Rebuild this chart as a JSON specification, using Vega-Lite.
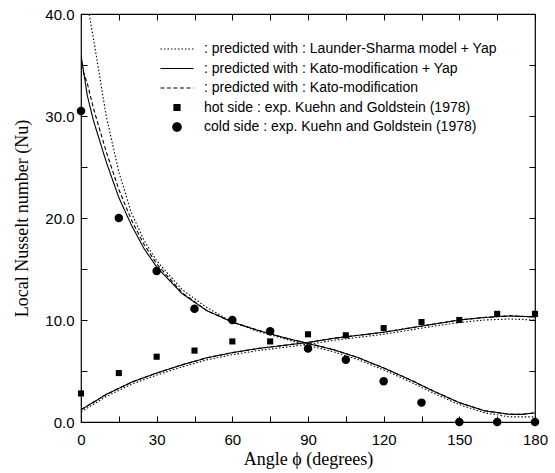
{
  "$schema": "https://vega.github.io/schema/vega-lite/v6.json",
  "width": 454,
  "height": 408,
  "autosize": "none",
  "padding": {"left": 81, "top": 14, "right": 20, "bottom": 51},
  "background": "white",
  "datasets": {
    "curves": [
      {"model": ": predicted with : Launder-Sharma model + Yap", "side": "cold", "x": 0, "y": 44},
      {"model": ": predicted with : Launder-Sharma model + Yap", "side": "cold", "x": 2.5, "y": 41},
      {"model": ": predicted with : Launder-Sharma model + Yap", "side": "cold", "x": 5, "y": 37.5},
      {"model": ": predicted with : Launder-Sharma model + Yap", "side": "cold", "x": 10, "y": 30},
      {"model": ": predicted with : Launder-Sharma model + Yap", "side": "cold", "x": 15, "y": 24.5},
      {"model": ": predicted with : Launder-Sharma model + Yap", "side": "cold", "x": 20, "y": 20.5},
      {"model": ": predicted with : Launder-Sharma model + Yap", "side": "cold", "x": 25, "y": 17.8},
      {"model": ": predicted with : Launder-Sharma model + Yap", "side": "cold", "x": 30, "y": 15.8},
      {"model": ": predicted with : Launder-Sharma model + Yap", "side": "cold", "x": 40, "y": 13.0},
      {"model": ": predicted with : Launder-Sharma model + Yap", "side": "cold", "x": 50, "y": 11.2},
      {"model": ": predicted with : Launder-Sharma model + Yap", "side": "cold", "x": 60, "y": 9.8},
      {"model": ": predicted with : Launder-Sharma model + Yap", "side": "cold", "x": 70, "y": 8.9},
      {"model": ": predicted with : Launder-Sharma model + Yap", "side": "cold", "x": 80, "y": 8.2},
      {"model": ": predicted with : Launder-Sharma model + Yap", "side": "cold", "x": 90, "y": 7.5},
      {"model": ": predicted with : Launder-Sharma model + Yap", "side": "cold", "x": 100, "y": 6.9},
      {"model": ": predicted with : Launder-Sharma model + Yap", "side": "cold", "x": 110, "y": 6.1},
      {"model": ": predicted with : Launder-Sharma model + Yap", "side": "cold", "x": 120, "y": 5.1},
      {"model": ": predicted with : Launder-Sharma model + Yap", "side": "cold", "x": 130, "y": 4.0},
      {"model": ": predicted with : Launder-Sharma model + Yap", "side": "cold", "x": 140, "y": 2.8},
      {"model": ": predicted with : Launder-Sharma model + Yap", "side": "cold", "x": 150, "y": 1.7},
      {"model": ": predicted with : Launder-Sharma model + Yap", "side": "cold", "x": 160, "y": 0.9},
      {"model": ": predicted with : Launder-Sharma model + Yap", "side": "cold", "x": 170, "y": 0.5},
      {"model": ": predicted with : Launder-Sharma model + Yap", "side": "cold", "x": 180, "y": 0.5},
      {"model": ": predicted with : Launder-Sharma model + Yap", "side": "hot", "x": 0, "y": 1.0},
      {"model": ": predicted with : Launder-Sharma model + Yap", "side": "hot", "x": 10, "y": 2.5},
      {"model": ": predicted with : Launder-Sharma model + Yap", "side": "hot", "x": 20, "y": 3.7},
      {"model": ": predicted with : Launder-Sharma model + Yap", "side": "hot", "x": 30, "y": 4.6},
      {"model": ": predicted with : Launder-Sharma model + Yap", "side": "hot", "x": 40, "y": 5.4},
      {"model": ": predicted with : Launder-Sharma model + Yap", "side": "hot", "x": 50, "y": 6.1},
      {"model": ": predicted with : Launder-Sharma model + Yap", "side": "hot", "x": 60, "y": 6.6},
      {"model": ": predicted with : Launder-Sharma model + Yap", "side": "hot", "x": 70, "y": 7.0},
      {"model": ": predicted with : Launder-Sharma model + Yap", "side": "hot", "x": 80, "y": 7.3},
      {"model": ": predicted with : Launder-Sharma model + Yap", "side": "hot", "x": 90, "y": 7.6},
      {"model": ": predicted with : Launder-Sharma model + Yap", "side": "hot", "x": 100, "y": 8.0},
      {"model": ": predicted with : Launder-Sharma model + Yap", "side": "hot", "x": 110, "y": 8.3},
      {"model": ": predicted with : Launder-Sharma model + Yap", "side": "hot", "x": 120, "y": 8.6},
      {"model": ": predicted with : Launder-Sharma model + Yap", "side": "hot", "x": 130, "y": 9.0},
      {"model": ": predicted with : Launder-Sharma model + Yap", "side": "hot", "x": 140, "y": 9.4},
      {"model": ": predicted with : Launder-Sharma model + Yap", "side": "hot", "x": 150, "y": 9.75},
      {"model": ": predicted with : Launder-Sharma model + Yap", "side": "hot", "x": 160, "y": 10.0},
      {"model": ": predicted with : Launder-Sharma model + Yap", "side": "hot", "x": 170, "y": 10.1},
      {"model": ": predicted with : Launder-Sharma model + Yap", "side": "hot", "x": 180, "y": 10.0},
      {"model": ": predicted with : Kato-modification + Yap", "side": "cold", "x": 0, "y": 36},
      {"model": ": predicted with : Kato-modification + Yap", "side": "cold", "x": 2.5, "y": 32},
      {"model": ": predicted with : Kato-modification + Yap", "side": "cold", "x": 5, "y": 29.5},
      {"model": ": predicted with : Kato-modification + Yap", "side": "cold", "x": 10, "y": 25.5},
      {"model": ": predicted with : Kato-modification + Yap", "side": "cold", "x": 15, "y": 22},
      {"model": ": predicted with : Kato-modification + Yap", "side": "cold", "x": 20, "y": 19.3},
      {"model": ": predicted with : Kato-modification + Yap", "side": "cold", "x": 25, "y": 17},
      {"model": ": predicted with : Kato-modification + Yap", "side": "cold", "x": 30, "y": 15.2},
      {"model": ": predicted with : Kato-modification + Yap", "side": "cold", "x": 40, "y": 12.6},
      {"model": ": predicted with : Kato-modification + Yap", "side": "cold", "x": 50, "y": 10.9},
      {"model": ": predicted with : Kato-modification + Yap", "side": "cold", "x": 60, "y": 9.8},
      {"model": ": predicted with : Kato-modification + Yap", "side": "cold", "x": 70, "y": 9.0},
      {"model": ": predicted with : Kato-modification + Yap", "side": "cold", "x": 80, "y": 8.3},
      {"model": ": predicted with : Kato-modification + Yap", "side": "cold", "x": 90, "y": 7.7},
      {"model": ": predicted with : Kato-modification + Yap", "side": "cold", "x": 100, "y": 7.1},
      {"model": ": predicted with : Kato-modification + Yap", "side": "cold", "x": 110, "y": 6.3},
      {"model": ": predicted with : Kato-modification + Yap", "side": "cold", "x": 120, "y": 5.3},
      {"model": ": predicted with : Kato-modification + Yap", "side": "cold", "x": 130, "y": 4.2},
      {"model": ": predicted with : Kato-modification + Yap", "side": "cold", "x": 140, "y": 3.0},
      {"model": ": predicted with : Kato-modification + Yap", "side": "cold", "x": 150, "y": 1.9},
      {"model": ": predicted with : Kato-modification + Yap", "side": "cold", "x": 160, "y": 1.1},
      {"model": ": predicted with : Kato-modification + Yap", "side": "cold", "x": 170, "y": 0.75},
      {"model": ": predicted with : Kato-modification + Yap", "side": "cold", "x": 175, "y": 0.75},
      {"model": ": predicted with : Kato-modification + Yap", "side": "cold", "x": 180, "y": 0.9},
      {"model": ": predicted with : Kato-modification + Yap", "side": "hot", "x": 0, "y": 1.2},
      {"model": ": predicted with : Kato-modification + Yap", "side": "hot", "x": 10, "y": 2.7},
      {"model": ": predicted with : Kato-modification + Yap", "side": "hot", "x": 20, "y": 3.9},
      {"model": ": predicted with : Kato-modification + Yap", "side": "hot", "x": 30, "y": 4.8},
      {"model": ": predicted with : Kato-modification + Yap", "side": "hot", "x": 40, "y": 5.6},
      {"model": ": predicted with : Kato-modification + Yap", "side": "hot", "x": 50, "y": 6.3},
      {"model": ": predicted with : Kato-modification + Yap", "side": "hot", "x": 60, "y": 6.8},
      {"model": ": predicted with : Kato-modification + Yap", "side": "hot", "x": 70, "y": 7.2},
      {"model": ": predicted with : Kato-modification + Yap", "side": "hot", "x": 80, "y": 7.5},
      {"model": ": predicted with : Kato-modification + Yap", "side": "hot", "x": 90, "y": 7.8},
      {"model": ": predicted with : Kato-modification + Yap", "side": "hot", "x": 100, "y": 8.2},
      {"model": ": predicted with : Kato-modification + Yap", "side": "hot", "x": 110, "y": 8.5},
      {"model": ": predicted with : Kato-modification + Yap", "side": "hot", "x": 120, "y": 8.8},
      {"model": ": predicted with : Kato-modification + Yap", "side": "hot", "x": 130, "y": 9.2},
      {"model": ": predicted with : Kato-modification + Yap", "side": "hot", "x": 140, "y": 9.6},
      {"model": ": predicted with : Kato-modification + Yap", "side": "hot", "x": 150, "y": 10.0},
      {"model": ": predicted with : Kato-modification + Yap", "side": "hot", "x": 160, "y": 10.25},
      {"model": ": predicted with : Kato-modification + Yap", "side": "hot", "x": 170, "y": 10.4},
      {"model": ": predicted with : Kato-modification + Yap", "side": "hot", "x": 180, "y": 10.3},
      {"model": ": predicted with : Kato-modification", "side": "cold", "x": 0, "y": 35},
      {"model": ": predicted with : Kato-modification", "side": "cold", "x": 2.5, "y": 33.2},
      {"model": ": predicted with : Kato-modification", "side": "cold", "x": 5, "y": 30.7},
      {"model": ": predicted with : Kato-modification", "side": "cold", "x": 10, "y": 26.5},
      {"model": ": predicted with : Kato-modification", "side": "cold", "x": 15, "y": 22.8},
      {"model": ": predicted with : Kato-modification", "side": "cold", "x": 20, "y": 19.8},
      {"model": ": predicted with : Kato-modification", "side": "cold", "x": 25, "y": 17.4},
      {"model": ": predicted with : Kato-modification", "side": "cold", "x": 30, "y": 15.5},
      {"model": ": predicted with : Kato-modification", "side": "cold", "x": 40, "y": 12.7},
      {"model": ": predicted with : Kato-modification", "side": "cold", "x": 50, "y": 10.9},
      {"model": ": predicted with : Kato-modification", "side": "cold", "x": 60, "y": 9.8},
      {"model": ": predicted with : Kato-modification", "side": "cold", "x": 70, "y": 9.0},
      {"model": ": predicted with : Kato-modification", "side": "cold", "x": 80, "y": 8.3},
      {"model": ": predicted with : Kato-modification", "side": "cold", "x": 90, "y": 7.7},
      {"model": ": predicted with : Kato-modification", "side": "cold", "x": 100, "y": 7.1},
      {"model": ": predicted with : Kato-modification", "side": "cold", "x": 110, "y": 6.3},
      {"model": ": predicted with : Kato-modification", "side": "cold", "x": 120, "y": 5.3},
      {"model": ": predicted with : Kato-modification", "side": "cold", "x": 130, "y": 4.2},
      {"model": ": predicted with : Kato-modification", "side": "cold", "x": 140, "y": 3.0},
      {"model": ": predicted with : Kato-modification", "side": "cold", "x": 150, "y": 1.9},
      {"model": ": predicted with : Kato-modification", "side": "cold", "x": 160, "y": 1.1},
      {"model": ": predicted with : Kato-modification", "side": "cold", "x": 170, "y": 0.75},
      {"model": ": predicted with : Kato-modification", "side": "cold", "x": 175, "y": 0.75},
      {"model": ": predicted with : Kato-modification", "side": "cold", "x": 180, "y": 0.9},
      {"model": ": predicted with : Kato-modification", "side": "hot", "x": 0, "y": 1.2},
      {"model": ": predicted with : Kato-modification", "side": "hot", "x": 10, "y": 2.7},
      {"model": ": predicted with : Kato-modification", "side": "hot", "x": 20, "y": 3.9},
      {"model": ": predicted with : Kato-modification", "side": "hot", "x": 30, "y": 4.8},
      {"model": ": predicted with : Kato-modification", "side": "hot", "x": 40, "y": 5.6},
      {"model": ": predicted with : Kato-modification", "side": "hot", "x": 50, "y": 6.3},
      {"model": ": predicted with : Kato-modification", "side": "hot", "x": 60, "y": 6.8},
      {"model": ": predicted with : Kato-modification", "side": "hot", "x": 70, "y": 7.2},
      {"model": ": predicted with : Kato-modification", "side": "hot", "x": 80, "y": 7.5},
      {"model": ": predicted with : Kato-modification", "side": "hot", "x": 90, "y": 7.8},
      {"model": ": predicted with : Kato-modification", "side": "hot", "x": 100, "y": 8.2},
      {"model": ": predicted with : Kato-modification", "side": "hot", "x": 110, "y": 8.5},
      {"model": ": predicted with : Kato-modification", "side": "hot", "x": 120, "y": 8.8},
      {"model": ": predicted with : Kato-modification", "side": "hot", "x": 130, "y": 9.2},
      {"model": ": predicted with : Kato-modification", "side": "hot", "x": 140, "y": 9.6},
      {"model": ": predicted with : Kato-modification", "side": "hot", "x": 150, "y": 10.0},
      {"model": ": predicted with : Kato-modification", "side": "hot", "x": 160, "y": 10.25},
      {"model": ": predicted with : Kato-modification", "side": "hot", "x": 170, "y": 10.4},
      {"model": ": predicted with : Kato-modification", "side": "hot", "x": 180, "y": 10.3}
    ],
    "points": [
      {"series": "  hot side : exp. Kuehn and Goldstein (1978)", "x": 0, "y": 2.8},
      {"series": "  hot side : exp. Kuehn and Goldstein (1978)", "x": 15, "y": 4.8},
      {"series": "  hot side : exp. Kuehn and Goldstein (1978)", "x": 30, "y": 6.4},
      {"series": "  hot side : exp. Kuehn and Goldstein (1978)", "x": 45, "y": 7.0},
      {"series": "  hot side : exp. Kuehn and Goldstein (1978)", "x": 60, "y": 7.9},
      {"series": "  hot side : exp. Kuehn and Goldstein (1978)", "x": 75, "y": 7.9},
      {"series": "  hot side : exp. Kuehn and Goldstein (1978)", "x": 90, "y": 8.6},
      {"series": "  hot side : exp. Kuehn and Goldstein (1978)", "x": 105, "y": 8.5},
      {"series": "  hot side : exp. Kuehn and Goldstein (1978)", "x": 120, "y": 9.2},
      {"series": "  hot side : exp. Kuehn and Goldstein (1978)", "x": 135, "y": 9.8},
      {"series": "  hot side : exp. Kuehn and Goldstein (1978)", "x": 150, "y": 10.0},
      {"series": "  hot side : exp. Kuehn and Goldstein (1978)", "x": 165, "y": 10.6},
      {"series": "  hot side : exp. Kuehn and Goldstein (1978)", "x": 180, "y": 10.6},
      {"series": "  cold side : exp. Kuehn and Goldstein (1978)", "x": 0, "y": 30.5},
      {"series": "  cold side : exp. Kuehn and Goldstein (1978)", "x": 15, "y": 20.0},
      {"series": "  cold side : exp. Kuehn and Goldstein (1978)", "x": 30, "y": 14.8},
      {"series": "  cold side : exp. Kuehn and Goldstein (1978)", "x": 45, "y": 11.1},
      {"series": "  cold side : exp. Kuehn and Goldstein (1978)", "x": 60, "y": 10.0},
      {"series": "  cold side : exp. Kuehn and Goldstein (1978)", "x": 75, "y": 8.9},
      {"series": "  cold side : exp. Kuehn and Goldstein (1978)", "x": 90, "y": 7.2},
      {"series": "  cold side : exp. Kuehn and Goldstein (1978)", "x": 105, "y": 6.1},
      {"series": "  cold side : exp. Kuehn and Goldstein (1978)", "x": 120, "y": 4.0},
      {"series": "  cold side : exp. Kuehn and Goldstein (1978)", "x": 135, "y": 1.9},
      {"series": "  cold side : exp. Kuehn and Goldstein (1978)", "x": 150, "y": 0.0},
      {"series": "  cold side : exp. Kuehn and Goldstein (1978)", "x": 165, "y": 0.0},
      {"series": "  cold side : exp. Kuehn and Goldstein (1978)", "x": 180, "y": 0.0}
    ]
  },
  "layer": [
    {
      "data": {"name": "curves"},
      "mark": {"type": "line", "clip": true, "color": "black", "strokeWidth": 1.1},
      "encoding": {
        "x": {"field": "x", "type": "quantitative", "scale": {"domain": [0, 180], "nice": false, "zero": false},
              "axis": {"orient": "bottom", "values": [0,15,30,45,60,75,90,105,120,135,150,165,180], "labelExpr": "datum.value % 30 === 0 ? datum.value : ''", "labelFlush": false, "labelPadding": 16, "title": "Angle ϕ (degrees)", "titlePadding": 3}},
        "y": {"field": "y", "type": "quantitative", "scale": {"domain": [0, 40], "nice": false, "zero": false},
              "axis": {"orient": "left", "values": [0,5,10,15,20,25,30,35,40], "labelExpr": "datum.value % 10 === 0 ? format(datum.value, '.1f') : ''", "labelFlush": false, "labelPadding": 13, "title": "Local Nusselt number (Nu)", "titlePadding": 13}},
        "detail": {"field": "side"},
        "strokeDash": {"field": "model", "type": "nominal",
          "scale": {"domain": [": predicted with : Launder-Sharma model + Yap", ": predicted with : Kato-modification + Yap", ": predicted with : Kato-modification", "  hot side : exp. Kuehn and Goldstein (1978)", "  cold side : exp. Kuehn and Goldstein (1978)"],
                    "range": [[1.5, 2], [1, 0], [4, 2.5], [1, 0], [1, 0]]},
          "legend": {"title": null, "encode": {"symbols": {"update": {"stroke": {"value": "black"}, "strokeWidth": {"value": 1.1}, "fill": {"value": "black"}, "opacity": {"value": 1}}}}}}
      }
    },
    {
      "data": {"name": "points"},
      "mark": {"type": "point", "filled": true, "color": "black", "opacity": 1, "size": 72},
      "encoding": {
        "x": {"field": "x", "type": "quantitative", "scale": {"domain": [0, 180], "nice": false, "zero": false},
              "axis": {"orient": "top", "values": [0,15,30,45,60,75,90,105,120,135,150,165,180], "labels": false, "title": null}},
        "y": {"field": "y", "type": "quantitative", "scale": {"domain": [0, 40], "nice": false, "zero": false},
              "axis": {"orient": "right", "values": [0,5,10,15,20,25,30,35,40], "labels": false, "title": null}},
        "shape": {"field": "series", "type": "nominal",
          "scale": {"domain": [": predicted with : Launder-Sharma model + Yap", ": predicted with : Kato-modification + Yap", ": predicted with : Kato-modification", "  hot side : exp. Kuehn and Goldstein (1978)", "  cold side : exp. Kuehn and Goldstein (1978)"],
                    "range": ["M-3.9,0H3.9", "M-3.9,0H3.9", "M-3.9,0H3.9", "M-0.72,-0.72H0.72V0.72H-0.72Z", "circle"]},
          "legend": {"title": null, "encode": {"symbols": {"update": {"stroke": {"value": "black"}, "strokeWidth": {"value": 1.1}, "fill": {"value": "black"}, "opacity": {"value": 1}}}}}}
      }
    }
  ],
  "resolve": {"scale": {"x": "independent", "y": "independent"}},
  "config": {
    "view": {"stroke": "black", "strokeWidth": 1.2},
    "axis": {"grid": false, "domain": false, "tickColor": "black", "tickSize": -6, "tickWidth": 1, "labelFont": "Liberation Sans", "labelFontSize": 15, "labelColor": "black", "titleFont": "Liberation Serif", "titleFontSize": 18, "titleFontWeight": "normal", "titleColor": "black"},
    "legend": {"orient": "none", "legendX": 89, "legendY": 28, "labelFont": "Liberation Sans", "labelFontSize": 14, "labelColor": "black", "rowPadding": 5.5, "labelOffset": 20, "symbolSize": 72, "labelLimit": 400, "symbolFillColor": "black", "symbolStrokeColor": "black"}
  }
}
